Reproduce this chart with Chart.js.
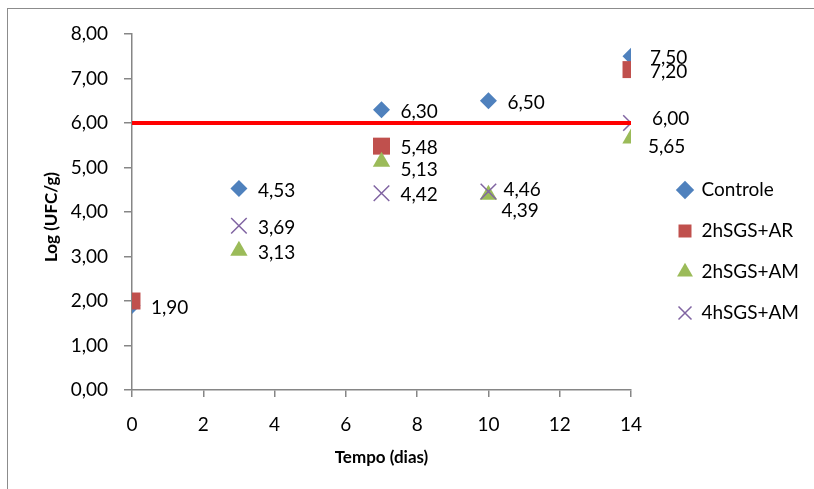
<!DOCTYPE html>
<html>
<head>
<meta charset="utf-8">
<script src="https://cdn.jsdelivr.net/npm/chart.js@4.4.0/dist/chart.umd.min.js"></script>
<style>
    html, body { margin: 0; padding: 0; background: #fff; }
    #wrap { position: relative; width: 814px; height: 489px; overflow: hidden; }
    #frame { position: absolute; left: 7px; top: 8px; width: 900px; height: 600px;
             border-left: 1.5px solid #8c8c8c; border-top: 1.5px solid #8c8c8c; }
    #chart { position: absolute; left: 0; top: 0; }
</style>
</head>
<body>
<div id="wrap">
    <div id="frame"></div>
    <canvas id="chart" width="814" height="489"></canvas>
</div>
<script>
// Days sampled and log counts per treatment (null = not measured / not shown)
const days = [0, 3, 7, 10, 14];
const controle = [1.90, 4.53, 6.30, 6.50, 7.50];
const sgsAR2h = [2.00, null, 5.48, null, 7.20];
const sgsAM2h = [null, 3.13, 5.13, 4.39, 5.65];
const sgsAM4h = [null, 3.69, 4.42, 4.46, 6.00];
const limitValue = 6;
const xTicks = [0, 2, 4, 6, 8, 10, 12, 14];
const yTicks = [0, 1, 2, 3, 4, 5, 6, 7, 8];
const yTitle = 'Log (UFC/g)';
const xTitle = 'Tempo (dias)';

const FONT = 'Lato';

// keep nulls so point index == day index
function toPoints(values) {
    return values.map((v, i) => ({x: days[i], y: v}));
}

function fmt(v) {
    return v.toFixed(2).replace('.', ',');
}

// label offsets where the Excel labels were moved to avoid overlap
const labelNudge = {
    '1:0': {hide: true},
    '2:2': {dy: 8},
    '2:3': {dx: 13, dy: 16},
    '2:4': {dx: 17, dy: 8},
    '3:3': {dx: 15, dy: -2},
    '3:4': {dx: 21, dy: -4}
};

const valueLabels = {
    id: 'valueLabels',
    afterInit(chart) {
        // legend measures its text short and clips it, use a fixed width
        const origFit = chart.legend.fit;
        chart.legend.fit = function() {
            origFit.call(this);
            this.width = 158;
        };
    },
    afterDatasetsDraw(chart) {
        const ctx = chart.ctx;
        ctx.save();
        ctx.font = '19px ' + FONT;
        ctx.fillStyle = '#000';
        ctx.textBaseline = 'middle';
        ctx.textAlign = 'left';
        chart.data.datasets.forEach((ds, di) => {
            if (ds.type === 'line') return;
            const meta = chart.getDatasetMeta(di);
            meta.data.forEach((el, i) => {
                const val = ds.data[i].y;
                if (val === null) return;
                const n = labelNudge[di + ':' + i] || {};
                if (n.hide) return;
                const dx = n.dx !== undefined ? n.dx : 19;
                const dy = n.dy !== undefined ? n.dy : 2;
                ctx.fillText(fmt(val), el.x + dx, el.y + dy);
            });
        });
        ctx.restore();
    },
    afterDraw(chart) {
        // y axis title
        const ctx = chart.ctx;
        const area = chart.chartArea;
        ctx.save();
        ctx.setTransform(1, 0, 0, 1, 0, 0);
        ctx.translate(52, (area.top + area.bottom) / 2 + 5);
        ctx.rotate(-Math.PI / 2);
        ctx.font = 'bold 17px ' + FONT;
        ctx.fillStyle = '#000';
        ctx.textAlign = 'center';
        ctx.textBaseline = 'middle';
        ctx.fillText(yTitle, 0, 0);
        ctx.restore();
    }
};

const axisGrey = '#868686';

new Chart(document.getElementById('chart'), {
    type: 'scatter',
    data: {
        datasets: [
            {
                label: 'Controle',
                data: toPoints(controle),
                pointStyle: 'rectRot',
                pointRadius: 8.5,
                pointHoverRadius: 8.5,
                backgroundColor: '#4F81BD',
                borderColor: '#4F81BD',
                borderWidth: 0,
                order: 4
            },
            {
                label: '2hSGS+AR',
                data: toPoints(sgsAR2h),
                pointStyle: 'rect',
                pointRadius: 12,
                pointHoverRadius: 12,
                backgroundColor: '#C0504D',
                borderColor: '#C0504D',
                borderWidth: 0,
                order: 3
            },
            {
                label: '2hSGS+AM',
                data: toPoints(sgsAM2h),
                pointStyle: 'triangle',
                pointRadius: 10,
                pointHoverRadius: 10,
                backgroundColor: '#9BBB59',
                borderColor: '#9BBB59',
                borderWidth: 0,
                order: 2
            },
            {
                label: '4hSGS+AM',
                data: toPoints(sgsAM4h),
                pointStyle: 'crossRot',
                pointRadius: 11,
                pointHoverRadius: 11,
                backgroundColor: '#8064A2',
                borderColor: '#8064A2',
                borderWidth: 1.5,
                order: 1
            },
            {
                type: 'line',
                label: 'limite',
                data: [{x: days[0], y: limitValue}, {x: days[days.length - 1], y: limitValue}],
                borderColor: '#FF0000',
                borderWidth: 4,
                pointRadius: 0,
                fill: false,
                order: 0
            }
        ]
    },
    options: {
        responsive: false,
        animation: false,
        devicePixelRatio: 1,
        layout: {padding: {top: 34, right: 0, bottom: 20, left: 0}},
        plugins: {
            tooltip: {enabled: false},
            legend: {
                position: 'right',
                labels: {
                    usePointStyle: true,
                    boxWidth: 14,
                    boxHeight: 13,
                    padding: 22,
                    color: '#000',
                    font: {family: FONT, size: 19},
                    filter: item => item.text !== 'limite',
                    sort: (a, b) => a.datasetIndex - b.datasetIndex
                }
            }
        },
        scales: {
            x: {
                type: 'linear',
                min: 0,
                max: 14,
                afterBuildTicks: scale => { scale.ticks = xTicks.map(v => ({value: v})); },
                afterFit: scale => { scale.height = 79; },
                grid: {drawOnChartArea: false, drawTicks: true, tickLength: 7, color: axisGrey, lineWidth: 1.5},
                border: {color: axisGrey, width: 1.5},
                ticks: {color: '#000', font: {family: FONT, size: 19}, padding: 16},
                title: {
                    display: true,
                    text: xTitle,
                    color: '#000',
                    font: {family: FONT, size: 17, weight: 'bold'},
                    padding: {top: 1, bottom: 1}
                }
            },
            y: {
                min: 0,
                max: 8,
                afterBuildTicks: scale => { scale.ticks = yTicks.map(v => ({value: v})); },
                afterFit: scale => { scale.width = 132; },
                grid: {drawOnChartArea: false, drawTicks: true, tickLength: 8, color: axisGrey, lineWidth: 1.5},
                border: {color: axisGrey, width: 1.5},
                ticks: {color: '#000', font: {family: FONT, size: 19}, padding: 16, callback: v => fmt(v)},
                title: {display: false}
            },
            spacer: {
                type: 'linear',
                position: 'right',
                display: true,
                afterFit: scale => { scale.width = 25; },
                grid: {display: false},
                border: {display: false},
                ticks: {display: false}
            }
        }
    },
    plugins: [valueLabels]
});
</script>
</body>
</html>
